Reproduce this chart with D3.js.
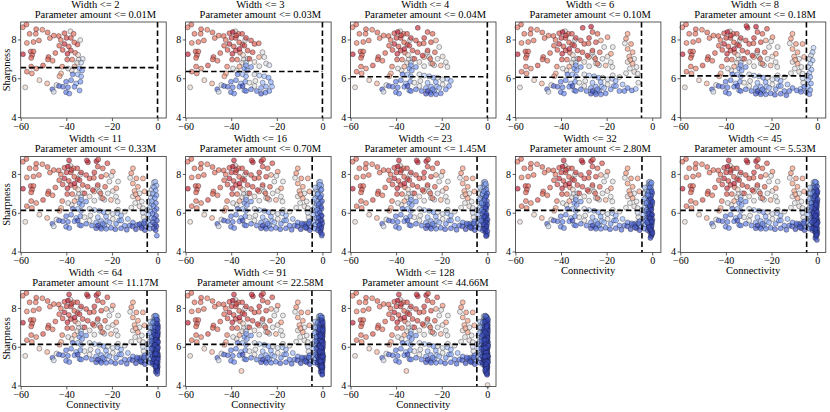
<!DOCTYPE html>
<html>
<head>
<meta charset="utf-8">
<script src="https://cdn.jsdelivr.net/npm/d3@7"></script>
<style>
  body { margin: 0; background: #fff; }
  text { font-family: "Liberation Serif", "DejaVu Serif", serif; fill: #000; }
</style>
</head>
<body>
<div id="vis"></div>
<script>
// Panel data ----------------------------------------------------------------------------------------------------------
const widths = [2, 3, 4, 6, 8, 11, 16, 23, 32, 45, 64, 91, 128];
const paramAmounts = ["0.01M", "0.03M", "0.04M", "0.10M", "0.18M", "0.33M", "0.70M", "1.45M", "2.80M", "5.53M",
  "11.17M", "22.58M", "44.66M"];
const sharpCut = [6.55, 6.35, 6.08, 6.05, 6.12, 6.12, 6.12, 6.12, 6.12, 6.12, 6.12, 6.12, 6.12];
const connCut = [0, 0, 0, -4.7, -4.7, -4.5, -4.5, -4.5, -4.5, -4.6, -4.6, -4.6, -4.6];
const xTicks = [-60, -40, -20, 0];
const yTicks = [4, 6, 8];

// Points added at each width: [connectivity, sharpness, colour value]
const ptsW2 = [
  [-57.5, 8.77, 0.55], [-59.1, 8.63, 0.5], [-53.2, 8.53, 0.55], [-56.1, 8.29, 0.5], [-53.4, 8.29, 0.5],
  [-48.2, 8.36, 0.55], [-47.2, 8.07, 0.5], [-54.4, 7.87, 0.5], [-57.3, 7.82, 0.45], [-59.0, 7.24, 0.75],
  [-55.6, 7.38, 0.6], [-54.4, 7.38, 0.55], [-55.0, 7.19, 0.6], [-55.4, 7.05, 0.55], [-47.8, 7.1, 0.6],
  [-48.1, 6.97, 0.55], [-50.2, 6.66, 0.6], [-55.4, 6.6, 0.5], [-53.2, 6.5, 0.45], [-57.3, 6.34, 0.5],
  [-55.1, 6.25, 0.45], [-58.0, 5.53, 0.05], [-51.8, 5.9, 0.1], [-48.4, 5.73, 0.25], [-52.0, 7.95, 0.5],
  [-45.5, 8.2, 0.5], [-50.5, 8.5, 0.45], [-46.0, 6.9, 0.5], [-44.8, 7.3, 0.55],
  [-43.3, 8.18, 0.55], [-40.8, 8.32, 0.6], [-38.2, 8.42, 0.05], [-36.8, 8.29, 0.5], [-38.0, 8.08, 0.6],
  [-39.9, 8.08, 0.65], [-42.4, 7.97, 0.5], [-43.1, 7.68, 0.55], [-40.8, 7.77, 0.7], [-38.9, 7.64, 0.6],
  [-41.6, 7.46, 0.6], [-38.0, 7.43, 0.65], [-36.1, 7.31, 0.5], [-39.5, 7.26, 0.7], [-35.1, 7.74, 0.6],
  [-33.9, 7.97, 0.0], [-39.6, 6.96, 0.6], [-37.4, 6.96, 0.5], [-34.5, 6.96, 0.0], [-32.8, 7.0, -0.05],
  [-35.2, 6.8, 0.05], [-33.5, 6.8, -0.1], [-36.4, 6.6, 0.3], [-37.6, 6.4, 0.05], [-34.2, 6.5, -0.5],
  [-33.1, 6.4, -0.45], [-37.2, 6.2, -0.6], [-35.0, 6.2, -0.3], [-33.5, 6.1, -0.4], [-42.3, 6.25, 0.3],
  [-43.0, 6.1, 0.35], [-44.3, 5.65, 0.0], [-46.1, 5.43, -0.7], [-40.1, 5.82, -0.6], [-37.9, 5.9, -0.55],
  [-35.7, 5.73, -0.35], [-33.8, 5.82, -0.5], [-41.5, 5.56, -0.65], [-39.3, 5.53, -0.6], [-36.4, 5.56, -0.55],
  [-34.2, 5.37, -0.5], [-40.1, 5.28, -0.6], [-38.7, 5.21, -0.55], [-43.2, 5.6, -0.7], [-45.5, 5.3, -0.05],
  [-36.5, 7.85, 0.55], [-34.8, 7.2, 0.1], [-41.8, 6.6, 0.45], [-39.2, 6.5, 0.0]
];
const ptsW3 = [
  [-39.3, 8.38, 0.75], [-37.8, 8.21, 0.65], [-35.2, 8.29, 0.6], [-33.5, 8.08, 0.65], [-31.3, 7.95, 0.6],
  [-29.8, 7.77, 0.6], [-27.9, 7.8, 0.55], [-34.2, 7.68, 0.65], [-36.4, 7.51, 0.75], [-32.8, 7.43, 0.6],
  [-30.6, 7.34, 0.6], [-26.3, 7.34, 0.0], [-27.8, 7.09, 0.3], [-25.5, 7.09, 0.0], [-32.0, 7.0, 0.6],
  [-29.8, 6.84, 0.05], [-24.7, 6.76, 0.0], [-23.3, 6.67, -0.05], [-33.5, 6.67, -0.45], [-31.3, 6.58, -0.5],
  [-27.7, 6.62, 0.0], [-29.8, 6.2, -0.05], [-27.7, 6.14, -0.2], [-25.5, 6.1, -0.3], [-23.6, 6.03, -0.45],
  [-22.6, 5.8, -0.4], [-22.1, 5.57, -0.35], [-23.3, 5.34, -0.5], [-25.0, 5.26, -0.6], [-26.9, 5.2, -0.75],
  [-28.8, 5.34, -0.6], [-29.8, 5.6, 0.0], [-29.4, 5.86, 0.0], [-26.2, 5.77, -0.3], [-24.7, 5.57, -0.4],
  [-26.9, 5.5, -0.45], [-31.3, 5.43, -0.6], [-32.0, 5.77, 0.0], [-35.0, 5.6, -0.8], [-33.5, 5.34, -0.6]
];
const ptsW4 = [
  [-26.2, 8.38, 0.6], [-24.0, 8.29, 0.55], [-27.7, 8.08, 0.65], [-24.7, 7.86, 0.6], [-22.5, 7.95, 0.3],
  [-21.1, 7.61, 0.0], [-23.0, 7.34, 0.55], [-26.2, 7.43, 0.6], [-28.4, 7.17, 0.65], [-25.0, 7.0, 0.55],
  [-21.8, 7.0, 0.0], [-19.6, 7.12, 0.05], [-18.2, 6.83, 0.0], [-20.4, 6.66, 0.25], [-17.5, 6.58, 0.0],
  [-24.0, 6.75, 0.45], [-21.8, 6.03, 0.0], [-19.6, 5.94, -0.05], [-17.5, 5.97, -0.25], [-16.0, 5.86, -0.35],
  [-16.8, 5.6, -0.45], [-18.2, 5.43, -0.5], [-20.4, 5.22, -0.6], [-22.5, 5.17, -0.6], [-24.7, 5.17, -0.65],
  [-19.6, 5.68, 0.0], [-21.1, 5.5, -0.3], [-26.2, 5.34, -0.8], [-24.0, 5.43, -0.55], [-30.5, 8.6, 0.7]
];
const ptsW6 = [
  [-10.8, 8.29, 0.35], [-11.5, 8.04, 0.4], [-9.3, 7.77, 0.4], [-10.8, 7.51, 0.35], [-8.6, 7.34, 0.35],
  [-10.1, 7.12, 0.3], [-7.9, 7.0, 0.0], [-10.8, 6.84, 0.05], [-8.6, 6.75, 0.35], [-6.9, 6.58, 0.0],
  [-9.8, 6.5, 0.0], [-7.9, 6.33, 0.05], [-6.4, 6.24, 0.0], [-11.5, 6.26, 0.0], [-14.4, 6.06, 0.0],
  [-17.3, 6.15, 0.0], [-13.0, 5.68, -0.3], [-10.8, 5.5, -0.55], [-8.9, 5.37, -0.6], [-7.2, 5.45, -0.3],
  [-12.2, 5.34, -0.6], [-14.4, 5.34, -0.55], [-15.9, 5.6, -0.4], [-6.1, 5.77, 0.0], [-19.6, 8.12, 0.4],
  [-17.3, 7.61, 0.0], [-18.1, 7.26, 0.35], [-26.8, 8.66, 0.75], [-9.6, 6.95, 0.3], [-12.0, 7.8, 0.0]
];
const ptsW8 = [
  [-1.6, 7.57, -0.15], [-2.0, 7.34, -0.2], [-2.7, 7.17, -0.1], [-3.4, 7.0, -0.05], [-2.0, 6.92, -0.25],
  [-3.0, 6.75, -0.2], [-3.9, 6.58, -0.1], [-2.5, 6.44, -0.3], [-3.4, 6.27, -0.25], [-4.4, 6.15, -0.1],
  [-3.0, 6.06, -0.35], [-3.9, 5.9, -0.3], [-2.7, 5.73, -0.4], [-4.1, 5.56, -0.35], [-3.0, 5.39, -0.45],
  [-4.9, 5.3, -0.5], [-3.4, 5.18, -0.55], [-6.4, 7.77, 0.35], [-5.7, 7.1, 0.3], [-6.4, 6.0, -0.1],
  [-5.7, 5.56, -0.6], [-7.1, 5.3, -0.65], [-18.5, 5.15, -0.7], [-16.0, 5.2, -0.65], [-13.5, 5.12, -0.7],
  [-31.0, 8.7, 0.7], [-22.0, 8.55, 0.6], [-20.2, 7.9, 0.0]
];
const ptsW11 = [
  [-1.0, 7.6, -0.25], [-0.5, 7.4, -0.35], [-1.5, 7.3, -0.3], [-0.8, 7.15, -0.4], [-2.0, 7.0, -0.3],
  [-0.5, 6.9, -0.45], [-1.2, 6.75, -0.45], [-2.5, 6.6, -0.35], [-0.7, 6.5, -0.55], [-1.8, 6.35, -0.5],
  [-0.4, 6.2, -0.6], [-1.3, 6.1, -0.6], [-2.2, 5.95, -0.55], [-0.6, 5.85, -0.7], [-1.5, 5.7, -0.65],
  [-0.3, 5.6, -0.75], [-2.0, 5.5, -0.65], [-1.0, 5.4, -0.75], [-0.5, 5.3, -0.8], [-1.6, 5.2, -0.75],
  [-0.8, 5.1, -0.8], [-0.3, 4.82, -0.6], [-11.0, 5.3, -0.75], [-9.5, 5.15, -0.8], [-8.0, 5.4, -0.75],
  [-7.0, 5.2, -0.8], [-6.0, 5.45, -0.7], [-5.5, 5.1, -0.8], [-26.0, 8.75, 0.6], [-38.8, 8.7, 0.7]
];
const ptsW16 = [
  [-1.2, 7.45, -0.35], [-0.4, 7.2, -0.5], [-2.1, 6.95, -0.4], [-0.9, 6.8, -0.6], [-0.2, 6.6, -0.7],
  [-1.6, 6.45, -0.6], [-0.6, 6.3, -0.75], [-2.4, 6.15, -0.5], [-1.1, 6.0, -0.7], [-0.3, 5.85, -0.8],
  [-1.8, 5.75, -0.7], [-0.8, 5.6, -0.8], [-0.1, 5.45, -0.85], [-1.4, 5.35, -0.75], [-0.5, 5.2, -0.85],
  [-2.0, 5.1, -0.7], [-0.9, 5.0, -0.8], [-0.2, 4.9, -0.85], [-3.2, 7.3, -0.2], [-3.6, 6.7, -0.3],
  [-7.5, 5.25, -0.7], [-9.0, 5.45, -0.65]
];
const ptsW23 = [
  [-0.7, 7.5, -0.4], [-1.5, 7.1, -0.5], [0.0, 7.0, -0.7], [-0.5, 6.85, -0.7], [-1.3, 6.65, -0.65],
  [-0.1, 6.4, -0.8], [-0.9, 6.25, -0.8], [-1.7, 6.05, -0.7], [-0.4, 5.95, -0.85], [-1.2, 5.8, -0.8],
  [0.1, 5.65, -0.85], [-0.7, 5.5, -0.85], [-1.6, 5.4, -0.75], [-0.3, 5.3, -0.9], [-1.0, 5.15, -0.85],
  [0.0, 5.05, -0.9], [-0.6, 4.8, -0.85], [-2.6, 6.5, -0.5], [-2.8, 5.6, -0.6]
];
const ptsW32 = [
  [-0.3, 7.55, -0.5], [-1.0, 7.3, -0.6], [-0.2, 7.1, -0.75], [-1.8, 6.9, -0.55], [-0.6, 6.7, -0.8],
  [0.1, 6.55, -0.85], [-1.1, 6.35, -0.8], [-0.4, 6.15, -0.9], [-1.4, 5.95, -0.8], [0.0, 5.9, -0.9],
  [-0.9, 5.7, -0.85], [-0.2, 5.55, -0.9], [-1.3, 5.25, -0.85], [-0.5, 5.1, -0.9], [0.1, 4.95, -0.9],
  [-2.2, 5.5, -0.7], [-0.8, 4.7, -0.8]
];
const ptsW45 = [
  [-0.8, 7.6, -0.45], [0.0, 7.35, -0.7], [-0.5, 7.2, -0.75], [-1.4, 7.05, -0.65], [-0.2, 6.95, -0.8],
  [-0.9, 6.6, -0.85], [-0.1, 6.3, -0.9], [-0.7, 6.1, -0.9], [-1.2, 6.2, -0.85], [-0.3, 5.75, -0.9],
  [-1.0, 5.45, -0.9], [-0.4, 5.35, -0.9], [0.1, 5.2, -0.9], [-0.6, 5.0, -0.9], [-0.2, 4.85, -0.9],
  [-0.1, 4.6, -0.85], [-1.7, 6.75, -0.6], [-0.4, 6.5, -1], [-1.1, 6.85, -0.9], [0.2, 6.7, -1],
  [-0.6, 6.4, -1], [-1.5, 6.0, -0.9], [0.0, 6.05, -1], [-0.8, 5.85, -1], [0.3, 5.5, -1],
  [-1.3, 5.6, -0.95], [-0.2, 5.4, -1], [-0.9, 5.15, -1], [-2.3, 5.2, -0.8], [-2.5, 6.3, -0.7],
  [-3.0, 7.0, -0.3], [0.2, 7.1, -0.9]
];
const ptsW64 = [
  [-0.4, 7.4, -0.7], [-1.1, 7.0, -0.7], [0.1, 6.8, -0.9], [-0.6, 6.5, -0.9], [-0.2, 6.2, -0.9],
  [-0.9, 5.9, -0.9], [0.0, 5.6, -0.95], [-0.5, 5.4, -0.95], [-1.2, 5.6, -0.85], [-0.3, 5.15, -0.95],
  [-0.8, 4.95, -0.9], [0.0, 4.75, -0.9], [-2.0, 7.25, -0.45], [-0.5, 6.0, -0.9], [-0.3, 7.2, -0.9],
  [0.2, 6.95, -1], [-1.4, 6.6, -0.9], [-0.1, 6.6, -1], [-0.8, 6.35, -1], [0.3, 6.25, -1],
  [-1.2, 6.1, -0.95], [-0.3, 5.8, -1], [0.2, 5.95, -1], [-0.7, 5.65, -1], [-1.6, 5.35, -0.9],
  [0.2, 5.35, -1], [-0.5, 5.2, -1], [-1.0, 5.0, -0.95], [-2.6, 5.9, -0.7]
];
const ptsW91 = [
  [-0.2, 7.5, -0.6], [-0.9, 7.2, -0.75], [-0.3, 6.9, -0.9], [-0.7, 6.7, -0.9], [0.0, 6.45, -0.95],
  [-0.4, 6.0, -0.95], [-1.0, 6.35, -0.9], [-0.2, 5.8, -0.95], [-0.6, 5.5, -0.95], [0.1, 5.3, -0.95],
  [-0.4, 5.05, -0.95], [-1.0, 5.3, -0.9], [-0.1, 4.55, -0.85], [-35.5, 4.75, 0.2], [-0.5, 7.35, -0.9],
  [0.2, 7.25, -0.95], [-1.3, 6.9, -0.85], [0.2, 6.85, -1], [-0.9, 6.55, -1], [-0.3, 6.25, -1],
  [-1.2, 6.05, -1], [0.3, 6.1, -1], [-0.7, 5.95, -1], [0.0, 5.7, -1], [-1.3, 5.75, -0.95],
  [-0.4, 5.45, -1], [0.3, 5.5, -1], [-0.8, 5.25, -1], [-0.2, 4.95, -0.95]
];
const ptsW128 = [
  [-0.5, 7.55, -0.7], [0.0, 7.15, -0.9], [-0.6, 6.95, -0.9], [-0.2, 6.65, -0.95], [-0.8, 6.2, -0.95],
  [-0.1, 5.95, -0.95], [-0.5, 5.7, -0.95], [-0.9, 5.45, -0.9], [-0.2, 5.25, -0.95], [-0.6, 4.9, -0.95],
  [-0.3, 4.65, -0.9], [0.1, 4.02, 0.05], [-1.6, 5.9, -0.85], [-1.0, 7.3, -0.85], [0.3, 7.4, -0.9],
  [-0.3, 7.05, -1], [-1.1, 6.75, -0.95], [0.1, 6.45, -1], [-0.5, 6.35, -1], [-1.3, 6.35, -0.95],
  [0.3, 6.05, -1], [-0.8, 5.95, -1], [-0.2, 5.55, -1], [-1.2, 5.5, -1], [0.3, 5.2, -1],
  [-0.6, 5.1, -1], [-1.0, 4.8, -0.95], [-2.2, 6.6, -0.75]
];
const pointGroups = [ptsW2, ptsW3, ptsW4, ptsW6, ptsW8, ptsW11, ptsW16, ptsW23, ptsW32, ptsW45, ptsW64, ptsW91, ptsW128];

// Initialize the canvas -----------------------------------------------------------------------------------------------
const canvasWidth = 830;
const canvasHeight = 412;

const colLeft = [20.7, 185.6, 350.5, 515.4, 680.3];
const rowTop = [22, 156.5, 290.5];
const plotWidth = 145.5;
const plotHeight = 96;

const svg = d3.select("#vis")
  .append("svg")
  .attr("width", canvasWidth)
  .attr("height", canvasHeight);

const xScale = d3.scaleLinear().domain([-60, 3.8]).range([0, plotWidth]);
const yScale = d3.scaleLinear().domain([3.95, 8.9]).range([plotHeight, 0]);

// coolwarm colour map, stretched so the mid-range values read stronger
const coolwarm = d3.scaleLinear()
  .domain([-0.8, -0.58, -0.37, -0.17, 0, 0.17, 0.36, 0.56, 0.8])
  .range(["#3b4cc0", "#6282ea", "#8db0fe", "#b8d0f9", "#dddddd", "#f5c4ad", "#f49a7b", "#de604d", "#b40426"])
  .clamp(true);

const fontSize = 10.5;
const tickFontSize = 10;

// Plot the panels -----------------------------------------------------------------------------------------------------
widths.forEach(function(w, i) {
  const col = i % 5;
  const row = Math.floor(i / 5);
  const g = svg.append("g")
    .attr("transform", "translate(" + colLeft[col] + "," + rowTop[row] + ")");

  const pts = pointGroups.slice(0, i + 1).flat();

  g.selectAll("circle")
    .data(pts)
    .enter()
    .append("circle")
    .attr("cx", d => xScale(d[0]))
    .attr("cy", d => yScale(d[1]))
    .attr("r", 2.5)
    .attr("fill", d => coolwarm(d[2]))
    .attr("fill-opacity", 0.66)
    .attr("stroke", "#10101c")
    .attr("stroke-opacity", 0.62)
    .attr("stroke-width", 0.55);

  // threshold lines
  g.append("line")
    .attr("x1", 0)
    .attr("x2", xScale(connCut[i]))
    .attr("y1", yScale(sharpCut[i]))
    .attr("y2", yScale(sharpCut[i]))
    .attr("stroke", "#000")
    .attr("stroke-width", 1.6)
    .attr("stroke-dasharray", "5.5,3");
  g.append("line")
    .attr("x1", xScale(connCut[i]))
    .attr("x2", xScale(connCut[i]))
    .attr("y1", 0)
    .attr("y2", plotHeight)
    .attr("stroke", "#000")
    .attr("stroke-width", 1.6)
    .attr("stroke-dasharray", "5.5,3");

  // frame
  g.append("rect")
    .attr("width", plotWidth)
    .attr("height", plotHeight)
    .attr("fill", "none")
    .attr("stroke", "#333")
    .attr("stroke-width", 0.8);

  // axes
  const yAxis = g.append("g")
    .call(d3.axisLeft(yScale).tickValues(yTicks).tickFormat(d3.format("d")).tickSize(2.8).tickPadding(1.5));
  const xAxis = g.append("g")
    .attr("transform", "translate(0," + plotHeight + ")")
    .call(d3.axisBottom(xScale).tickValues(xTicks).tickFormat(d3.format("d")).tickSize(3).tickPadding(1.8));
  [xAxis, yAxis].forEach(function(a) {
    a.select(".domain").remove();
    a.selectAll("line").attr("stroke", "#333").attr("stroke-width", 0.8);
    a.selectAll("text")
      .style("font-family", "Liberation Serif")
      .style("font-size", tickFontSize + "px")
      .attr("fill", "#000");
  });

  // titles
  g.append("text")
    .text("Width <= " + w)
    .attr("x", plotWidth / 2 + 2)
    .attr("y", -14.5)
    .style("text-anchor", "middle")
    .style("font-size", fontSize + "px");
  g.append("text")
    .text("Parameter amount <= " + paramAmounts[i])
    .attr("x", plotWidth / 2 + 2)
    .attr("y", -4.5)
    .style("text-anchor", "middle")
    .style("font-size", fontSize + "px");

  if (col === 0) {
    g.append("text")
      .text("Sharpness")
      .attr("transform", "translate(-11," + (plotHeight / 2) + ") rotate(-90)")
      .style("text-anchor", "middle")
      .style("font-size", fontSize + "px");
  }
  if (i + 5 >= widths.length) {
    g.append("text")
      .text("Connectivity")
      .attr("x", plotWidth / 2)
      .attr("y", plotHeight + 21.5)
      .style("text-anchor", "middle")
      .style("font-size", fontSize + "px");
  }
});
</script>
</body>
</html>
